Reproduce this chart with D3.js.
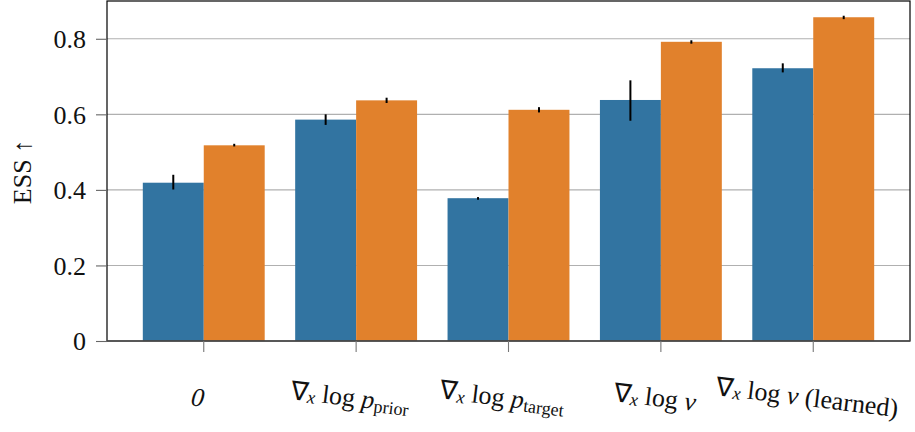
<!DOCTYPE html>
<html><head><meta charset="utf-8">
<script src="https://cdn.jsdelivr.net/npm/d3@7"></script>
<style>
body{margin:0;background:#fff;}
svg{display:block;}
svg text{font-family:"Liberation Serif","Times New Roman",serif;fill:#111;}
</style></head>
<body><svg id="chart" width="915" height="432"></svg>
<script>
const categories = ["0","grad_prior","grad_target","grad_nu","grad_nu_learned"];
const series = ["A","B"];
const seriesColors = ["#3274a1","#e1812c"];
const valuesA = [0.419, 0.586, 0.378, 0.638, 0.722];
const lowA    = [0.401, 0.572, 0.374, 0.583, 0.711];
const highA   = [0.440, 0.600, 0.381, 0.690, 0.735];
const valuesB = [0.518, 0.637, 0.612, 0.792, 0.857];
const lowB    = [0.515, 0.630, 0.605, 0.787, 0.852];
const highB   = [0.522, 0.644, 0.619, 0.796, 0.861];
const yTicks = [0, 0.2, 0.4, 0.6, 0.8];
const yTickLabels = ["0","0.2","0.4","0.6","0.8"];

const svg = d3.select("#chart");
const L = 107, R = 910, T = 1, B = 341;
const x = d3.scaleLinear().domain([-0.635, 4.635]).range([L, R]);
const y = d3.scaleLinear().domain([0, 0.9]).range([B, T]);
const groupW = 0.8;
const barW = groupW / 2;

// grid
svg.append("g").selectAll("line").data(yTicks.filter(d => d > 0)).join("line")
  .attr("x1", L).attr("x2", R).attr("y1", d => y(d)).attr("y2", d => y(d))
  .attr("stroke", "#b0b0b0").attr("stroke-width", 1.1);

// bars
const allSeries = [
  {vals: valuesA, lo: lowA, hi: highA, off: -barW/2},
  {vals: valuesB, lo: lowB, hi: highB, off: barW/2}
];
allSeries.forEach((s, si) => {
  const g = svg.append("g");
  g.selectAll("rect").data(s.vals).join("rect")
    .attr("x", (d, i) => x(i + s.off - barW/2))
    .attr("width", (d, i) => x(i + s.off + barW/2) - x(i + s.off - barW/2))
    .attr("y", d => y(d))
    .attr("height", d => y(0) - y(d))
    .attr("fill", seriesColors[si]);
  g.selectAll("line").data(s.vals).join("line")
    .attr("x1", (d, i) => x(i + s.off)).attr("x2", (d, i) => x(i + s.off))
    .attr("y1", (d, i) => y(s.lo[i])).attr("y2", (d, i) => y(s.hi[i]))
    .attr("stroke", "#000").attr("stroke-width", 2);
});

// frame
svg.append("rect").attr("x", L).attr("y", T).attr("width", R - L).attr("height", B - T)
  .attr("fill", "none").attr("stroke", "#000").attr("stroke-width", 1.2);
svg.append("line").attr("x1", L).attr("x2", R).attr("y1", B).attr("y2", B)
  .attr("stroke", "#555").attr("stroke-width", 1.4);

// y axis
const yAxis = d3.axisLeft(y).tickValues(yTicks).tickFormat((d, i) => yTickLabels[i]).tickSize(11).tickPadding(10);
const yg = svg.append("g").attr("transform", `translate(${L},0)`).call(yAxis);
yg.select(".domain").remove();
yg.attr("font-family", null).attr("font-size", null);
yg.selectAll(".tick line").attr("stroke", "#666").attr("stroke-width", 1.1);
yg.selectAll(".tick text").style("font-size", "26px").attr("fill", "#111").attr("dy", "0.34em");

// x ticks
svg.append("g").selectAll("line").data(categories).join("line")
  .attr("x1", (d, i) => x(i)).attr("x2", (d, i) => x(i))
  .attr("y1", B).attr("y2", B + 11).attr("stroke", "#777").attr("stroke-width", 1.1);

// x labels (math-like)
const xl = svg.append("g");
function label(i) {
  return xl.append("text")
    .attr("transform", `translate(${x(i) - 6},397) rotate(7)`)
    .attr("text-anchor", "middle").attr("dominant-baseline", "central")
    .style("font-size", "26px");
}
function nabla(t) {
  t.append("tspan").text("\u2207");
  t.append("tspan").attr("font-style", "italic").style("font-size", "18px").attr("dy", 5).text("x");
  t.append("tspan").attr("dy", -5).text(" log ");
}
{ const t = label(0); t.append("tspan").attr("font-style", "italic").text("0"); }
{ const t = label(1); nabla(t);
  t.append("tspan").attr("font-style", "italic").text("p");
  t.append("tspan").style("font-size", "18px").attr("dy", 6).text("prior"); }
{ const t = label(2); nabla(t);
  t.append("tspan").attr("font-style", "italic").text("p");
  t.append("tspan").style("font-size", "18px").attr("dy", 6).text("target"); }
{ const t = label(3); nabla(t);
  t.append("tspan").attr("font-style", "italic").text("\u03bd"); }
{ const t = label(4); nabla(t);
  t.append("tspan").attr("font-style", "italic").text("\u03bd");
  t.append("tspan").text(" (learned)"); }

// y label
svg.append("text").attr("transform", "translate(22,172) rotate(-90)")
  .attr("text-anchor", "middle").attr("dominant-baseline", "central")
  .style("font-size", "26px").text("ESS \u2191");
</script></body></html>
